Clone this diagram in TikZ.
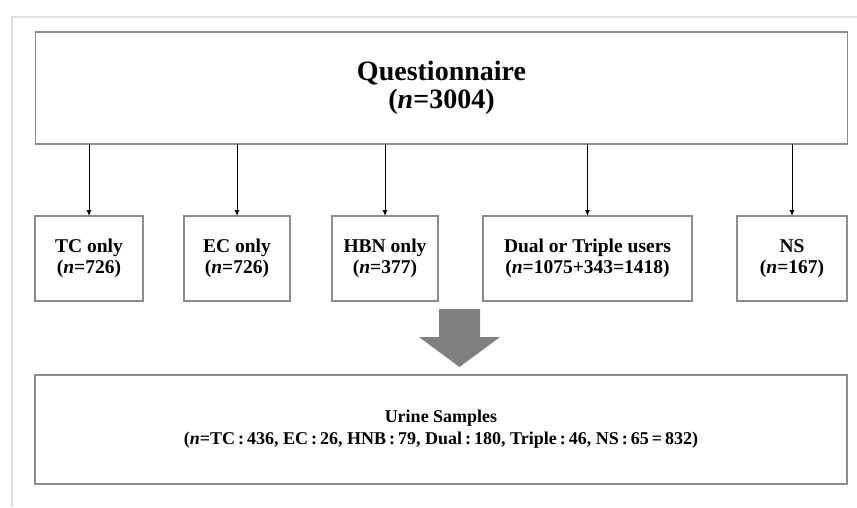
\documentclass[tikz,border=0pt]{standalone}
\usepackage{fontspec}
\setmainfont{Liberation Serif}
\usepackage{tikz}
\usetikzlibrary{arrows.meta, positioning}

\begin{document}
\begin{tikzpicture}[
    x=1pt, y=-1pt,
    box/.style={draw=black!45, line width=1.2pt, inner sep=0pt, outer sep=0pt, align=center},
    bigbox/.style={box, minimum width=812pt},
    userbox/.style={box, minimum height=85pt, font=\fontsize{19.5}{21}\selectfont\bfseries},
    arrow/.style={-{Latex[length=6pt, width=5pt]}, line width=1pt}
]
\useasboundingbox (0,0) rectangle (857,507);
\draw[black!12, line width=1.2pt] (12,507) -- (12,17) -- (857,17);

\node[bigbox, minimum height=112pt, font=\fontsize{28}{28}\selectfont\bfseries] (quest) at (441.5,88)
    {Questionnaire\\(\textit{n}=3004)};

\node[userbox, minimum width=108pt] (tc) at (89,258.5) {TC only\\(\textit{n}=726)};
\node[userbox, minimum width=106pt, right=41pt of tc] (ec) {EC only\\(\textit{n}=726)};
\node[userbox, minimum width=106pt, right=42pt of ec] (hbn) {HBN only\\(\textit{n}=377)};
\node[userbox, minimum width=209pt, right=45pt of hbn] (dual) {Dual or Triple users\\(\textit{n}=1075+343=1418)};
\node[userbox, minimum width=110pt, right=45pt of dual] (ns) {NS\\(\textit{n}=167)};

\foreach \grp in {tc, ec, hbn, dual, ns}
    \draw[arrow] (quest.south -| \grp.north) -- (\grp.north);

% big gray arrow down to the samples
\fill[black!50] (439,309) -- (480,309) -- (480,337) -- (500,337) -- (459.5,367)
    -- (419,337) -- (439,337) -- cycle;

\node[bigbox, minimum height=109pt, font=\fontsize{18}{22}\selectfont\bfseries] (urine) at (441,429.5)
    {Urine Samples\\(\textit{n}=TC\,:\,436,\ EC\,:\,26,\ HNB\,:\,79,\ Dual\,:\,180,\ Triple\,:\,46,\ NS\,:\,65\,=\,832)};
\end{tikzpicture}
\end{document}
